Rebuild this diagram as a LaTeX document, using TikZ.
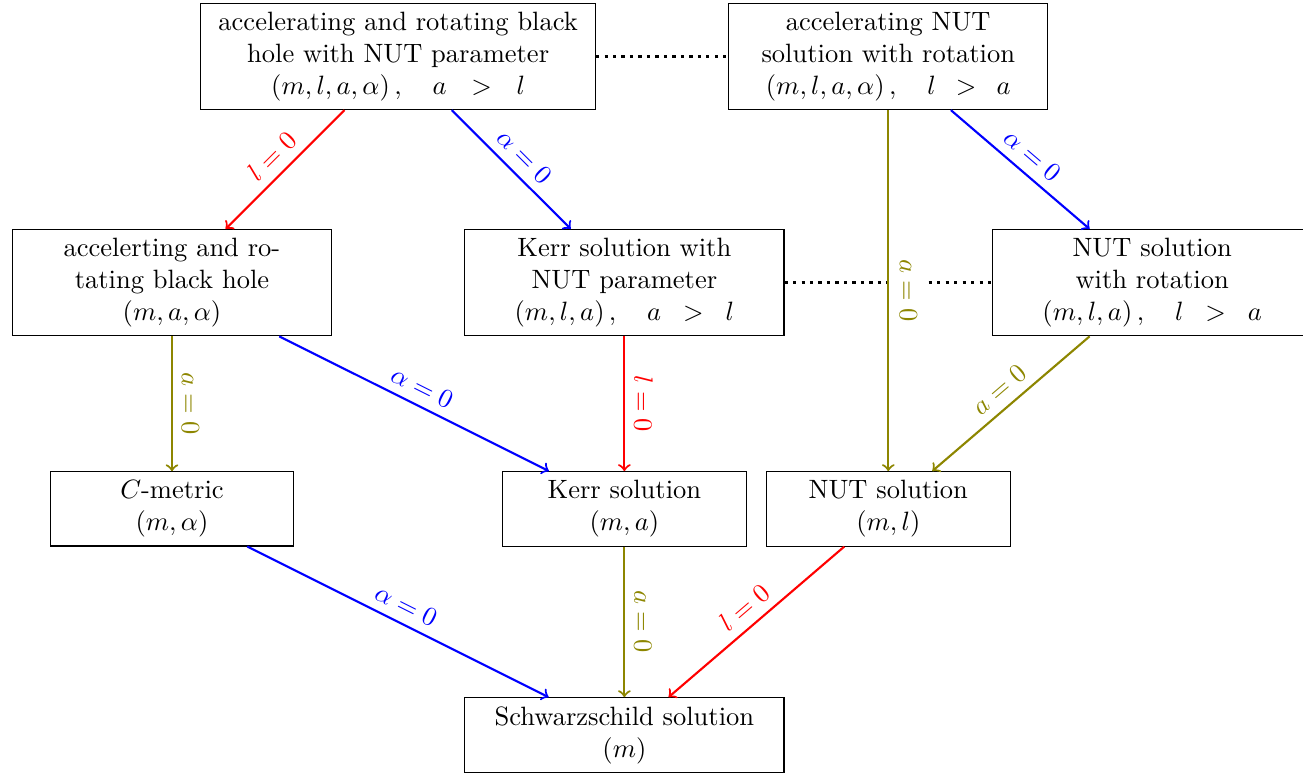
\documentclass[tikz,border=0pt]{standalone}
\usepackage{amsmath}
\begin{document}
\begin{tikzpicture}[
	bigbox/.style={draw, align=center, text width=5cm},
	box/.style={draw, align=center, text width=4cm},
	smallbox/.style={draw, align=center, text width=3cm},
	lbl/.style={midway, sloped, above},
	arr/.style={->, thick},
	]
	\useasboundingbox (-2.281,0.749) rectangle (15.0,-9.543);

	% first row
	\node[bigbox] (accnutrot) at (3,0) {accelerating and rotating black hole with NUT parameter\\ $(m,l,a,\alpha)\,,\quad a\ >\ l$};
	\node[box] (accnut) at (9.5,0) {accelerating NUT solution with rotation\\ $(m,l,a,\alpha)\,,\quad l\ >\ a$};

	% second row
	\node[box] (accrot) at (0,-3) {accelerting and rotating black hole\\ $(m,a,\alpha)$};
	\node[box] (kerrnut) at (6,-3) {Kerr solution with NUT parameter\\ $(m,l,a)\,,\quad a\ >\ l$};
	\node[box] (nutrot) at (13,-3) {NUT solution with rotation\\ $(m,l,a)\,,\quad l\ >\ a$};

	% third row
	\node[smallbox] (cmetric) at (0,-6) {$C$-metric\\ $(m,\alpha)$};
	\node[smallbox] (kerr) at (6,-6) {Kerr solution\\ $(m,a)$};
	\node[smallbox] (nut) at (9.5,-6) {NUT solution\\ $(m,l)$};

	% last row
	\node[box] (schw) at (6,-9) {Schwarzschild solution\\ $(m)$};

	% dotted links
	\draw[very thick, dotted] (accnutrot) -- (accnut);
	\draw[very thick, dotted] (kerrnut) -- (nutrot);

	% limits
	\draw[arr, red] (accnutrot) -- (accrot) node[lbl] {$l=0$};
	\draw[arr, blue] (accnutrot) -- (kerrnut) node[lbl] {$\alpha=0$};
	\draw[arr, olive] (accnut) -- (nut) node[lbl, fill=white, outer sep=1pt] {$a=0$};
	\draw[arr, blue] (accnut) -- (nutrot) node[lbl] {$\alpha=0$};

	\draw[arr, olive] (accrot) -- (cmetric) node[lbl] {$a=0$};
	\draw[arr, blue] (accrot) -- (kerr) node[lbl] {$\alpha=0$};
	\draw[arr, red] (kerrnut) -- (kerr) node[lbl] {$l=0$};
	\draw[arr, olive] (nutrot) -- (nut) node[lbl] {$a=0$};

	\draw[arr, blue] (cmetric) -- (schw) node[lbl] {$\alpha=0$};
	\draw[arr, olive] (kerr) -- (schw) node[lbl] {$a=0$};
	\draw[arr, red] (nut) -- (schw) node[lbl] {$l=0$};
\end{tikzpicture}
\end{document}
